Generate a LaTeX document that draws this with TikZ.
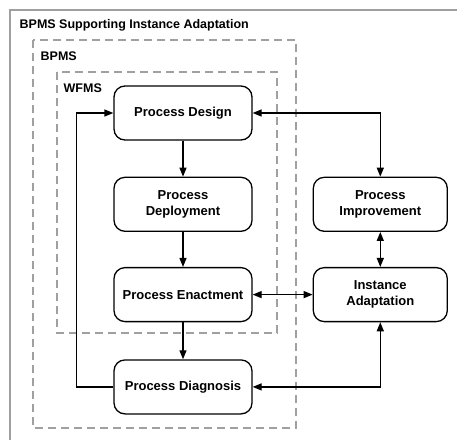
\documentclass[tikz,border=0pt]{standalone}
\usepackage{fontspec}
\setmainfont{Liberation Sans}
\usepackage{tikz}
\usetikzlibrary{positioning,arrows.meta}
\definecolor{boxgray}{RGB}{160,160,160}

\begin{document}
\begin{tikzpicture}[x=1pt,y=-1pt,node distance=36pt,
    proc/.style={draw,line width=1.3pt,rounded corners=11pt,align=center,
      minimum width=138pt,minimum height=54pt,font=\fontsize{13}{15.5}\selectfont\bfseries},
    sys/.style={draw=boxgray,line width=2pt,dash pattern=on 8pt off 5pt},
    lbl/.style={anchor=west,inner sep=0pt,font=\fontsize{12.5}{15}\selectfont\bfseries},
    >={Triangle[length=9pt,width=7pt]},line width=1.3pt]
    \useasboundingbox (0,0) rectangle (457,440);
    % frame and system borders
    \draw[boxgray,line width=1.2pt] (457,10) -- (10,10) -- (10,440);
    \draw[sys] (33,40) rectangle (296,428);
    \draw[sys] (57,72) rectangle (277,333);
    \node(title) [lbl] at (19,25) {BPMS Supporting Instance Adaptation};
    \node(bpms) [lbl] at (40,56) {BPMS};
    \node(wfms) [lbl] at (63,88) {WFMS};
    % life cycle
    \node(design) [proc] at (183,113) {Process Design};
    \node(deploy) [proc,below=of design] {Process\\Deployment};
    \node(enact) [proc,below=35pt of deploy] {Process Enactment};
    \node(diag) [proc,below=37pt of enact] {Process Diagnosis};
    \node(improve) [proc,minimum width=134pt,right=60pt of deploy] {Process\\Improvement};
    \node(adapt) [proc,minimum width=134pt,right=60pt of enact] {Instance\\Adaptation};
    \draw[->] (design) -- (deploy);
    \draw[->] (deploy) -- (enact);
    \draw[->] (enact) -- (diag);
    \draw[->] (diag.west) -- ++(-37,0) |- (design.west);
    \draw[<->] (design.east) -| (improve.north);
    \draw[<->] (improve) -- (adapt);
    \draw[<->] (enact) -- (adapt);
    \draw[<->] (diag.east) -| (adapt.south);
  \end{tikzpicture}
\end{document}
